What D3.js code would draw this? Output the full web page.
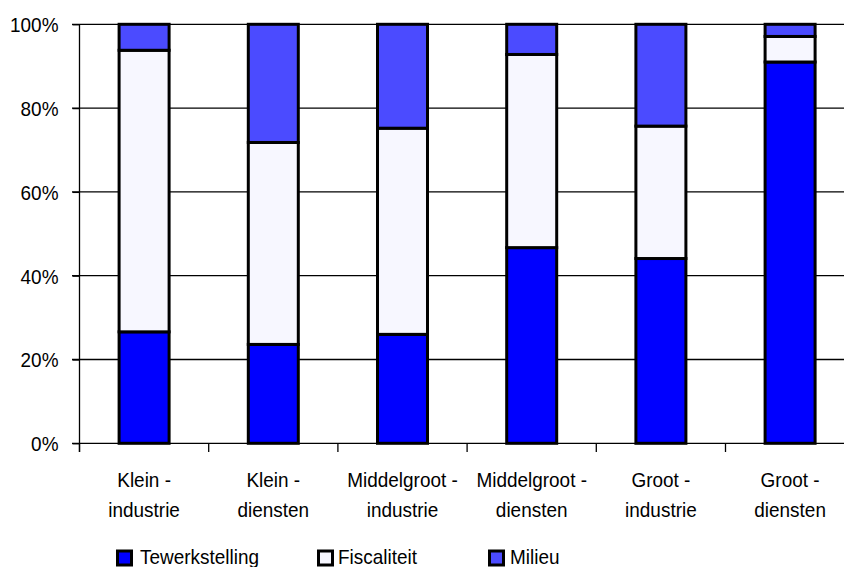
<!DOCTYPE html>
<html>
<head>
<meta charset="utf-8">
<script src="https://cdn.jsdelivr.net/npm/d3@7"></script>
<style>
  html, body { margin: 0; padding: 0; background: #fff; }
  svg { display: block; font-family: "Liberation Sans", Arial, sans-serif; }
</style>
</head>
<body>
<svg id="chart" width="844" height="567"></svg>
<script>
const categories = ["Klein - industrie", "Klein - diensten", "Middelgroot - industrie", "Middelgroot - diensten", "Groot - industrie", "Groot - diensten"];
const seriesNames = ["Tewerkstelling", "Fiscaliteit", "Milieu"];
const tewerkstelling = [26.6, 23.6, 26.0, 46.7, 44.1, 91.0];
const fiscaliteit = [67.2, 48.2, 49.2, 46.1, 31.6, 6.1];
const milieu = [6.2, 28.2, 24.8, 7.2, 24.3, 2.9];
const yTicks = [0, 20, 40, 60, 80, 100];
const colors = ["#0000ff", "#f7f7ff", "#4b4bff"];

const FS = 20.5, SX = 0.925;
const svg = d3.select("#chart");
const x0 = 79.5, bandW = 129.2;
const x = d3.scaleBand().domain(categories).range([x0, x0 + bandW * categories.length]).padding(0);
const y = d3.scaleLinear().domain([0, 100]).range([443.3, 24.3]);

const table = categories.map((c, i) => ({ cat: c, Tewerkstelling: tewerkstelling[i], Fiscaliteit: fiscaliteit[i], Milieu: milieu[i] }));
const stacked = d3.stack().keys(seriesNames)(table);

// gridlines
svg.append("g").selectAll("line").data(yTicks.filter(t => t > 0)).join("line")
  .attr("x1", 72).attr("x2", 844)
  .attr("y1", d => y(d)).attr("y2", d => y(d))
  .attr("stroke", "#000").attr("stroke-width", 1.3);

// y axis
const yAxis = d3.axisLeft(y).tickValues(yTicks).tickSize(7).tickFormat(d => d + "%");
const gy = svg.append("g").attr("transform", `translate(${x0},0)`).call(yAxis);
gy.select(".domain").remove();
gy.selectAll(".tick line").attr("stroke", "#000").attr("stroke-width", 1.3);
gy.selectAll(".tick text").attr("font-size", FS).attr("fill", "#000")
  .attr("x", -21 / SX).attr("dy", "0.36em").attr("transform", `scale(${SX},1)`)
  .attr("font-family", "Liberation Sans, Arial, sans-serif");
svg.append("line").attr("x1", x0).attr("x2", x0).attr("y1", y(100)).attr("y2", 452)
  .attr("stroke", "#000").attr("stroke-width", 1.3);

// x axis
const xTickPos = categories.map((c) => x(c));
svg.append("line").attr("x1", 72).attr("x2", 844).attr("y1", y(0)).attr("y2", y(0))
  .attr("stroke", "#000").attr("stroke-width", 1.3);
svg.append("g").selectAll("line").data(xTickPos).join("line")
  .attr("x1", d => d).attr("x2", d => d).attr("y1", y(0)).attr("y2", 452)
  .attr("stroke", "#000").attr("stroke-width", 1.3);

// bars
const barW = 50;
svg.append("g").selectAll("g").data(stacked).join("g")
  .attr("fill", (d, i) => colors[i])
  .selectAll("rect").data(d => d).join("rect")
  .attr("x", d => x(d.data.cat) + x.bandwidth() / 2 - barW / 2)
  .attr("width", barW)
  .attr("y", d => y(d[1]))
  .attr("height", d => y(d[0]) - y(d[1]))
  .attr("stroke", "#000").attr("stroke-width", 3);

// category labels
const lbl = svg.append("g").selectAll("text").data(categories).join("text")
  .attr("text-anchor", "middle").attr("font-size", FS).attr("fill", "#000")
  .attr("transform", d => `translate(${x(d) + x.bandwidth() / 2},0) scale(${SX},1)`);
lbl.each(function(d) {
  const parts = d.split(" - ");
  const t = d3.select(this);
  t.append("tspan").attr("x", 0).attr("y", 487.3).text(parts[0] + " -");
  t.append("tspan").attr("x", 0).attr("y", 516.7).text(parts[1]);
});

// legend
const legX = [117.5, 318.5, 489.5];
const leg = svg.append("g").selectAll("g").data(seriesNames).join("g")
  .attr("transform", (d, i) => `translate(${legX[i]},551)`);
leg.append("rect").attr("width", 14).attr("height", 14)
  .attr("fill", (d, i) => colors[i]).attr("stroke", "#000").attr("stroke-width", 3);
leg.append("text")
  .attr("transform", (d, i) => `translate(${[22.5, 19.5, 20.5][i]},12.5) scale(${SX},1)`)
  .attr("font-size", FS).attr("fill", "#000").text(d => d);
</script>
</body>
</html>
